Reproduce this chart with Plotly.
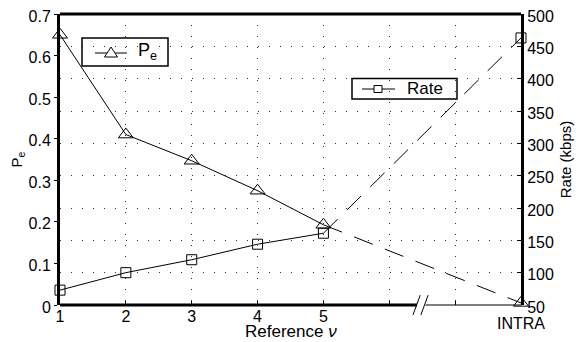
import plotly.graph_objects as go

x_ref = [1, 2, 3, 4, 5]
x_intra = 8
pe_ref = [0.65, 0.41, 0.347, 0.275, 0.193]
pe_intra = 0.005
rate_ref = [73, 100, 120, 144, 161]
rate_intra = 463
x_tickvals = [1, 2, 3, 4, 5, 6, 7, 8]
x_ticktext = ["1", "2", "3", "4", "5", "", "", ""]
intra_label = "INTRA"
pe_name = "P<sub>e</sub>"
rate_name = "Rate"

FONT = "Liberation Sans, Arial, Helvetica, sans-serif"
DASH = "20px,13px"

# plot area in window pixels (page body has an 8px margin)
PX0, PX1, PY0, PY1 = 60, 521, 14, 305


def xp(px):
    return (px - PX0) / (PX1 - PX0)


def yp(py):
    return (PY1 - py) / (PY1 - PY0)


fig = go.Figure()

tri = dict(symbol="triangle-up-open", size=13, color="black", line=dict(width=1, color="black"))
sq = dict(symbol="square-open", size=10, color="black", line=dict(width=1, color="black"))

fig.add_trace(go.Scatter(x=x_ref, y=pe_ref, mode="lines+markers", name=pe_name,
                         line=dict(color="black", width=1), marker=tri, showlegend=False,
                         cliponaxis=False))
fig.add_trace(go.Scatter(x=[x_ref[-1], x_intra], y=[pe_ref[-1], pe_intra], mode="lines",
                         line=dict(color="black", width=1, dash=DASH), showlegend=False))
fig.add_trace(go.Scatter(x=[x_intra], y=[pe_intra], mode="markers", marker=tri,
                         showlegend=False, cliponaxis=False))

fig.add_trace(go.Scatter(x=x_ref, y=rate_ref, mode="lines+markers", name=rate_name, yaxis="y2",
                         line=dict(color="black", width=1), marker=sq, showlegend=False,
                         cliponaxis=False))
fig.add_trace(go.Scatter(x=[x_ref[-1], x_intra], y=[rate_ref[-1], rate_intra], mode="lines", yaxis="y2",
                         line=dict(color="black", width=1, dash=DASH), showlegend=False))
fig.add_trace(go.Scatter(x=[x_intra], y=[rate_intra], mode="markers", yaxis="y2", marker=sq,
                         showlegend=False, cliponaxis=False))

grid = dict(showgrid=True, gridcolor="#333", gridwidth=1, griddash="1px,10px")

fig.update_layout(
    width=576, height=334,
    margin=dict(l=52, r=63, t=6, b=37, autoexpand=False),
    paper_bgcolor="white", plot_bgcolor="white",
    font=dict(family=FONT, size=15, color="black"),
    showlegend=False,
    xaxis=dict(range=[1, 8], tickvals=x_tickvals, ticktext=x_ticktext, automargin=False,
               ticks="inside", ticklen=4, tickcolor="black", showline=False, zeroline=False,
               tickfont=dict(size=16), ticklabeloverflow="allow", **grid),
    yaxis=dict(range=[0, 0.7], tickvals=[0, 0.1, 0.2, 0.3, 0.4, 0.5, 0.6, 0.7],
               ticktext=["0", "0.1", "0.2", "0.3", "0.4", "0.5", "0.6", "0.7"],
               automargin=False, tickfont=dict(size=16), ticklabeloverflow="allow",
               ticklabelshift=2,
               showgrid=False, zeroline=False, showline=True, linewidth=3, linecolor="black",
               ticks="outside", ticklen=3, tickcolor="black",
               title=dict(text="P<sub>e</sub>", standoff=4, font=dict(size=15))),
    yaxis2=dict(range=[50, 500], overlaying="y", side="right", automargin=False,
                tickvals=[50, 100, 150, 200, 250, 300, 350, 400, 450, 500], tickfont=dict(size=16),
                ticklabeloverflow="allow", ticklabelshift=2,
                zeroline=False, showline=True, linewidth=3, linecolor="black",
                ticks="inside", ticklen=4, tickcolor="black",
                title=dict(text="Rate (kbps)", standoff=8, font=dict(size=15)),
                **grid),
    annotations=[
        dict(text="Reference <i>ν</i>", xref="paper", yref="paper", x=xp(291), y=yp(331),
             xanchor="center", yanchor="middle", showarrow=False, font=dict(size=17)),
        dict(text=intra_label, xref="x", yref="paper", x=x_intra, y=yp(323),
             xanchor="center", yanchor="middle", showarrow=False, font=dict(size=16)),
        # legend texts
        dict(text=pe_name, xref="paper", yref="paper", x=xp(136), y=yp(51),
             xanchor="left", yanchor="middle", showarrow=False, font=dict(size=18)),
        dict(text=rate_name, xref="paper", yref="paper", x=xp(405), y=yp(89),
             xanchor="left", yanchor="middle", showarrow=False, font=dict(size=17)),
    ],
)


def tri_path(cx, cy, w=13, h=10):
    return (f"M {xp(cx)},{yp(cy - h / 2)} L {xp(cx - w / 2)},{yp(cy + h / 2)} "
            f"L {xp(cx + w / 2)},{yp(cy + h / 2)} Z")


shapes = [
    # frame: top line, bottom line with break
    dict(type="line", xref="paper", yref="paper", x0=0, x1=1, y0=1, y1=1,
         line=dict(color="black", width=3)),
    dict(type="line", xref="x", yref="paper", x0=1, x1=6.42, y0=0, y1=0,
         line=dict(color="black", width=3)),
    dict(type="line", xref="x", yref="paper", x0=6.55, x1=8, y0=0, y1=0,
         line=dict(color="black", width=1)),
    dict(type="line", xref="x", yref="paper", x0=6.36, x1=6.47, y0=-0.034, y1=0.034,
         line=dict(color="black", width=1)),
    dict(type="line", xref="x", yref="paper", x0=6.48, x1=6.59, y0=-0.034, y1=0.034,
         line=dict(color="black", width=1)),
    # Pe legend
    dict(type="rect", xref="paper", yref="paper", x0=xp(82), x1=xp(168), y0=yp(66), y1=yp(38),
         line=dict(color="black", width=1.5)),
    dict(type="line", xref="paper", yref="paper", x0=xp(95), x1=xp(127), y0=yp(53), y1=yp(53),
         line=dict(color="black", width=1)),
    dict(type="path", xref="paper", yref="paper", path=tri_path(111, 52),
         line=dict(color="black", width=1), fillcolor="white"),
    # Rate legend
    dict(type="rect", xref="paper", yref="paper", x0=xp(352), x1=xp(457), y0=yp(99), y1=yp(78.5),
         line=dict(color="black", width=1.5)),
    dict(type="line", xref="paper", yref="paper", x0=xp(362), x1=xp(395), y0=yp(89), y1=yp(89),
         line=dict(color="black", width=1)),
    dict(type="rect", xref="paper", yref="paper", x0=xp(374), x1=xp(382), y0=yp(92.5), y1=yp(85.5),
         line=dict(color="black", width=1), fillcolor="white"),
]
fig.update_layout(shapes=shapes)

fig.write_html("out.html")
